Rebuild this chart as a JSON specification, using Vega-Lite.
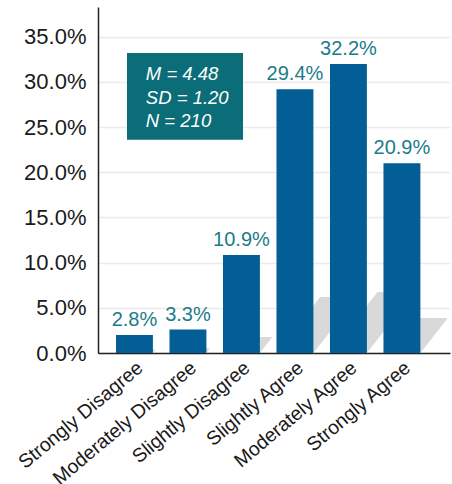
{
  "$schema": "https://vega.github.io/schema/vega-lite/v6.json",
  "width": 352,
  "height": 346,
  "autosize": {"type": "none"},
  "padding": {"left": 98, "top": 7, "right": 2, "bottom": 131},
  "background": "white",
  "config": {"view": {"stroke": null}, "font": "Liberation Sans"},
  "datasets": {
    "responses": [
      {"response": "Strongly Disagree", "height": 2.0, "label": "2.8%"},
      {"response": "Moderately Disagree", "height": 2.6, "label": "3.3%"},
      {"response": "Slightly Disagree", "height": 10.85, "label": "10.9%"},
      {"response": "Slightly Agree", "height": 29.2, "label": "29.4%"},
      {"response": "Moderately Agree", "height": 32.0, "label": "32.2%"},
      {"response": "Strongly Agree", "height": 21.0, "label": "20.9%"}
    ]
  },
  "layer": [
    {
      "data": {"name": "responses"},
      "encoding": {
        "x": {
          "field": "response",
          "type": "nominal",
          "sort": null,
          "scale": {"type": "band", "paddingInner": 0.31, "paddingOuter": 0.445, "align": 0.378},
          "axis": {
            "title": null,
            "ticks": false,
            "grid": false,
            "labelAngle": -40,
            "labelAlign": "right",
            "labelBaseline": "top",
            "labelFontSize": 19.5,
            "labelColor": "#1a1a1a",
            "labelPadding": 5,
            "labelLimit": 300,
            "domainColor": "#222222",
            "domainWidth": 1.5
          }
        },
        "y": {
          "field": "height",
          "type": "quantitative",
          "scale": {"domain": [0, 38.3], "nice": false},
          "axis": {
            "title": null,
            "values": [0, 5, 10, 15, 20, 25, 30, 35],
            "labelExpr": "format(datum.value, '.1f') + '%'",
            "ticks": false,
            "grid": true,
            "gridColor": "#ebebeb",
            "gridWidth": 1.5,
            "domainColor": "#222222",
            "domainWidth": 1.5,
            "labelFontSize": 22,
            "labelColor": "#1a1a1a",
            "labelPadding": 12
          }
        }
      },
      "layer": [
        {
          "mark": {"type": "point", "filled": true, "opacity": 1, "color": "#d9d9d9", "strokeWidth": 0},
          "encoding": {
            "y": {"datum": 0, "type": "quantitative"},
            "size": {"value": 1369},
            "shape": {
              "field": "response",
              "type": "nominal",
              "legend": null,
              "scale": {
                "domain": ["Strongly Disagree", "Moderately Disagree", "Slightly Disagree", "Slightly Agree", "Moderately Agree", "Strongly Agree"],
                "range": [
                  "M -1 0 L 1 0 L 1.148 -0.189 L -0.852 -0.189 Z",
                  "M -1 0 L 1 0 L 1.19 -0.243 L -0.81 -0.243 Z",
                  "M -1 0 L 1 0 L 1.675 -0.865 L -0.325 -0.865 Z",
                  "M -1 0 L 1 0 L 3.36 -3.027 L 1.36 -3.027 Z",
                  "M -1 0 L 1 0 L 3.57 -3.297 L 1.57 -3.297 Z",
                  "M -1 0 L 1 0 L 2.476 -1.892 L 0.476 -1.892 Z"
                ]
              }
            }
          }
        },
        {
          "mark": {"type": "bar", "color": "#025e94"}
        },
        {
          "mark": {"type": "text", "dy": -9, "baseline": "alphabetic", "align": "center", "fontSize": 20, "color": "#1b7c89"},
          "encoding": {"text": {"field": "label", "type": "nominal"}}
        }
      ]
    },
    {
      "data": {"values": [{"M": 4.48, "SD": 1.2, "N": 210}]},
      "layer": [
        {
          "mark": {"type": "rect", "color": "#0a6d78"},
          "encoding": {
            "x": {"datum": 0.0824, "type": "quantitative", "scale": {"domain": [0, 1], "nice": false}, "axis": null},
            "x2": {"datum": 0.412},
            "y": {"datum": 33.2, "type": "quantitative"},
            "y2": {"datum": 23.6}
          }
        },
        {
          "mark": {
            "type": "text",
            "text": ["M = 4.48", "SD = 1.20", "N = 210"],
            "lineHeight": 23.5,
            "align": "left",
            "baseline": "alphabetic",
            "fontSize": 18.5,
            "fontStyle": "italic",
            "color": "white"
          },
          "encoding": {
            "x": {"datum": 0.136, "type": "quantitative", "scale": {"domain": [0, 1], "nice": false}, "axis": null},
            "y": {"datum": 30.2, "type": "quantitative"}
          }
        }
      ]
    }
  ],
  "resolve": {"scale": {"x": "independent"}}
}
